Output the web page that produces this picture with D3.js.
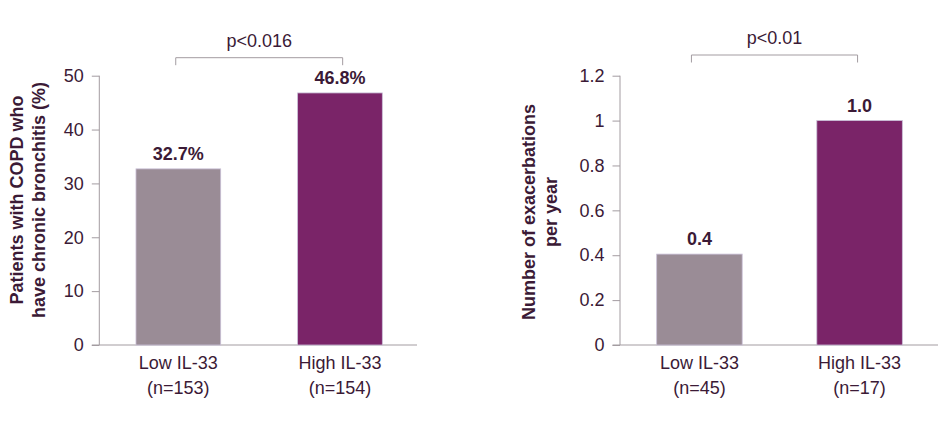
<!DOCTYPE html>
<html>
<head>
<meta charset="utf-8">
<script src="https://cdn.jsdelivr.net/npm/d3@7"></script>
<style>
  body { margin: 0; background: #fff; }
  text { font-family: "Liberation Sans", Arial, sans-serif; fill: #3b1a36; }
</style>
</head>
<body>
<div id="chart"></div>
<script>
var w = 940;
var h = 434;

var groups = ["Low IL-33", "High IL-33"];
var leftCounts = ["(n=153)", "(n=154)"];
var leftValues = [32.7, 46.8];
var leftLabels = ["32.7%", "46.8%"];
var leftTicks = [0, 10, 20, 30, 40, 50];

var rightCounts = ["(n=45)", "(n=17)"];
var rightValues = [0.405, 1.0];
var rightLabels = ["0.4", "1.0"];
var rightTicks = [0, 0.2, 0.4, 0.6, 0.8, 1, 1.2];

var barColors = ["#9a8c96", "#7a2468"];
var axisColor = "#a39ca1";

var svg = d3.select("#chart").append("svg").attr("width", w).attr("height", h);

function panel(opt) {
  var g = svg.append("g");

  var y = d3.scaleLinear().domain([0, opt.max]).range([345, 75.7]);
  var x = d3.scaleBand().domain(d3.range(opt.values.length))
    .range([opt.x0, opt.x1]).paddingInner(opt.pad).paddingOuter(opt.outer);

  var yAxis = d3.axisLeft(y).tickValues(opt.ticks).tickSize(7.5).tickPadding(8)
    .tickFormat(opt.fmt);
  var ya = g.append("g").attr("transform", "translate(" + opt.x0 + ",0)").call(yAxis);
  ya.select(".domain").attr("stroke", axisColor).attr("d", "M0," + y(opt.max) + "V" + y(0));
  ya.selectAll(".tick line").attr("stroke", axisColor);
  ya.selectAll(".tick text").style("font-size", "18px").attr("fill", "#3b1a36");

  // baseline
  g.append("line")
    .attr("x1", opt.x0 - 7.5).attr("x2", opt.axisEnd)
    .attr("y1", y(0)).attr("y2", y(0))
    .attr("stroke", axisColor);

  g.selectAll("rect.bar").data(opt.values).enter().append("rect")
    .attr("class", "bar")
    .attr("x", function (d, i) { return x(i); })
    .attr("y", function (d) { return y(d); })
    .attr("width", x.bandwidth())
    .attr("height", function (d) { return y(0) - y(d); })
    .attr("fill", function (d, i) { return barColors[i]; })
    .attr("stroke", "#c9bfd6").attr("stroke-width", 0.8);

  g.selectAll("text.val").data(opt.values).enter().append("text")
    .attr("class", "val")
    .attr("x", function (d, i) { return x(i) + x.bandwidth() / 2; })
    .attr("y", function (d) { return y(d) - 9; })
    .attr("text-anchor", "middle")
    .style("font-size", "18px").style("font-weight", "bold")
    .text(function (d, i) { return opt.labels[i]; });

  var xl = g.selectAll("text.cat").data(groups).enter().append("text")
    .attr("class", "cat")
    .attr("text-anchor", "middle")
    .style("font-size", "18px")
    .attr("transform", function (d, i) {
      return "translate(" + (x(i) + x.bandwidth() / 2) + ",369)";
    });
  xl.append("tspan").attr("x", 0).attr("y", 0).text(function (d) { return d; });
  xl.append("tspan").attr("x", 0).attr("y", 25).text(function (d, i) { return opt.counts[i]; });

  // significance bracket
  var bx0 = x(0) + x.bandwidth() / 2 + opt.bOff[0];
  var bx1 = x(1) + x.bandwidth() / 2 + opt.bOff[1];
  g.append("path")
    .attr("d", "M" + bx0 + "," + (opt.by + 7.5) + "V" + opt.by + "H" + bx1 + "V" + (opt.by + 7.5))
    .attr("fill", "none").attr("stroke", axisColor);
  g.append("text")
    .attr("x", (bx0 + bx1) / 2).attr("y", opt.by - 11)
    .attr("text-anchor", "middle")
    .style("font-size", "18px")
    .text(opt.p);

  var t = g.append("text")
    .attr("transform", "translate(" + opt.tx + "," + opt.ty + ") rotate(-90)")
    .attr("text-anchor", "middle")
    .style("font-size", "18px").style("font-weight", "bold");
  t.append("tspan").attr("x", 0).attr("y", 0).text(opt.title[0]);
  t.append("tspan").attr("x", 0).attr("y", 21.5).text(opt.title[1]);
}

panel({
  values: leftValues, labels: leftLabels, counts: leftCounts, ticks: leftTicks,
  max: 50, fmt: d3.format("d"), x0: 99.3, x1: 419, axisEnd: 417, pad: 0.476, outer: 0.227,
  by: 57.7, bOff: [-2.6, 2.7], p: "p<0.016",
  title: ["Patients with COPD who", "have chronic bronchitis (%)"], tx: 23, ty: 200
});

panel({
  values: rightValues, labels: rightLabels, counts: rightCounts, ticks: rightTicks,
  max: 1.2, fmt: function (d) { return String(d); }, x0: 620, x1: 939, axisEnd: 938, pad: 0.466, outer: 0.229,
  by: 55, bOff: [-8, -2], p: "p<0.01",
  title: ["Number of exacerbations", "per year"], tx: 535, ty: 212
});
</script>
</body>
</html>
